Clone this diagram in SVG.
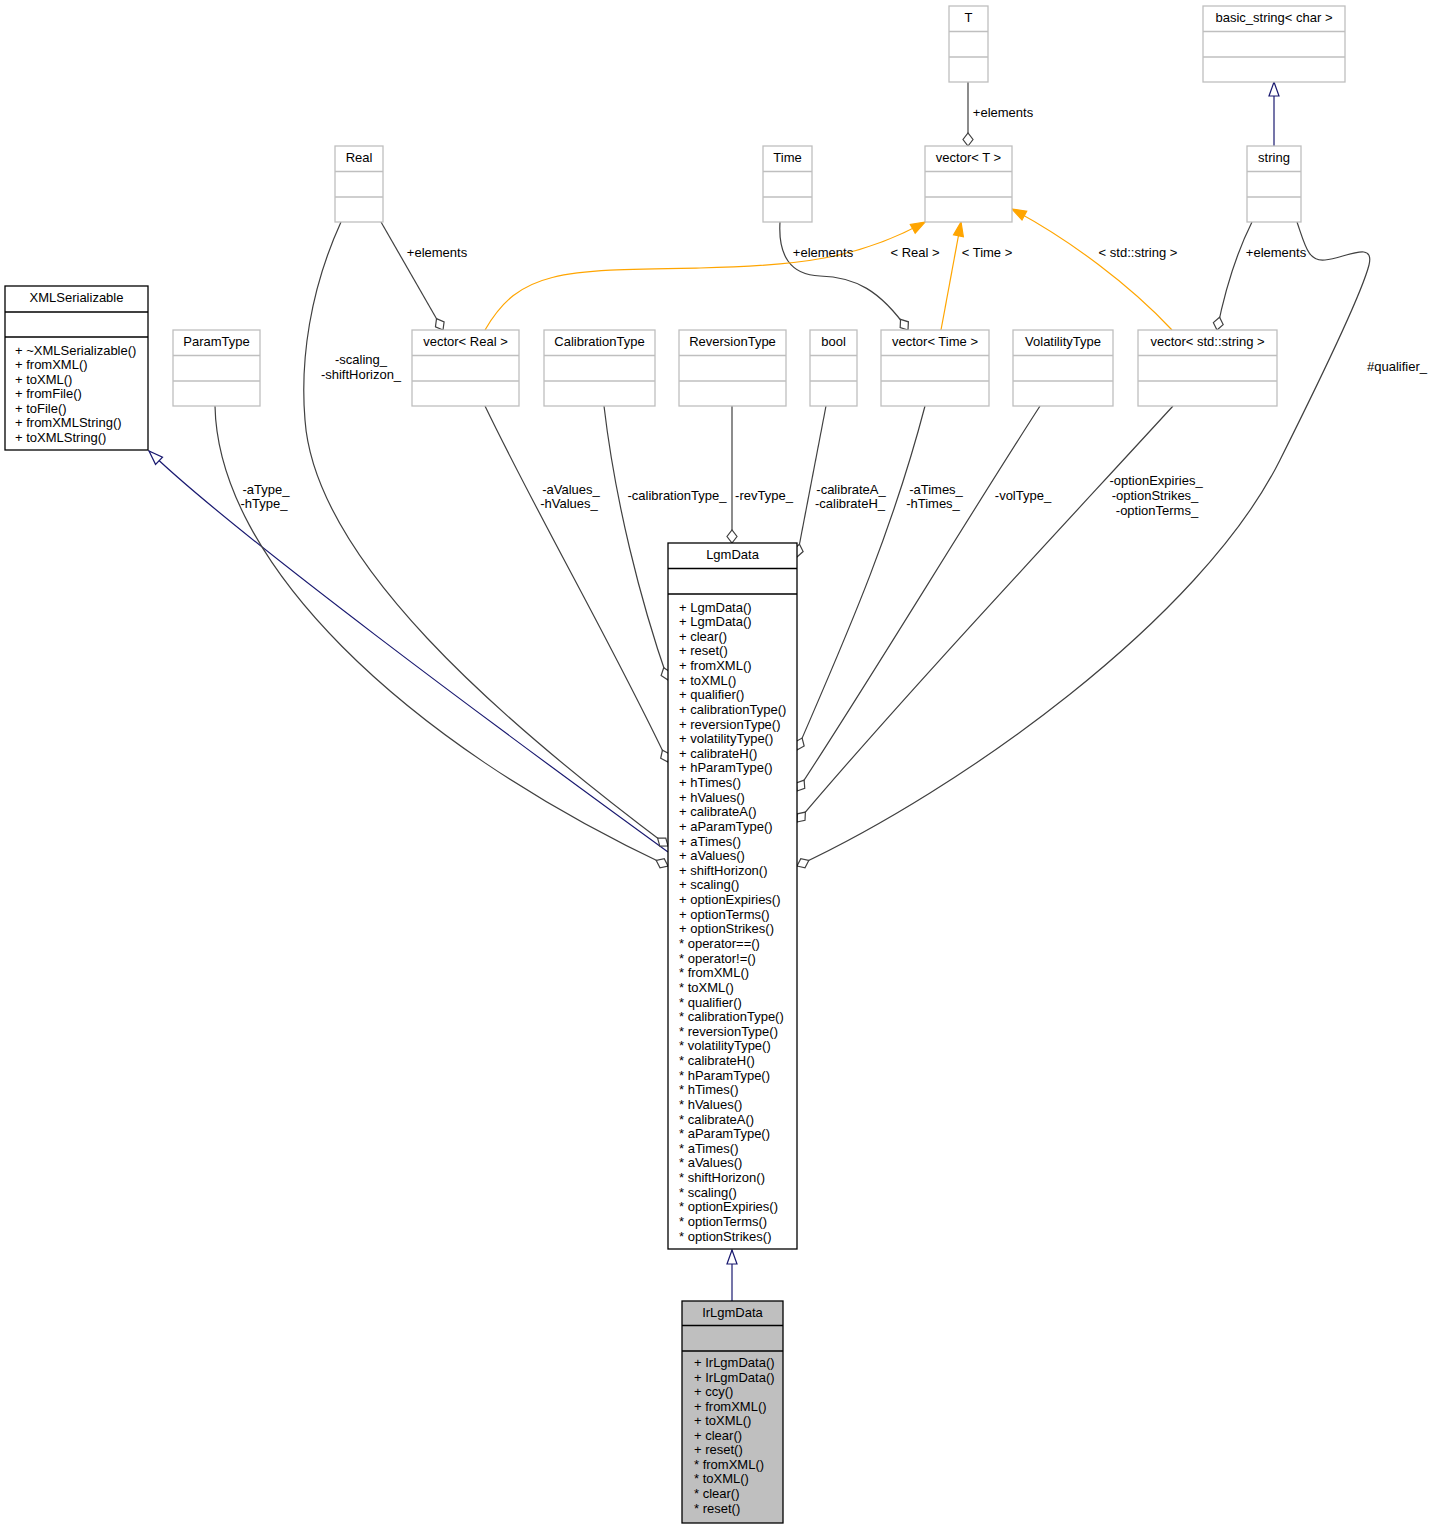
<svg xmlns="http://www.w3.org/2000/svg" width="1433" height="1529" viewBox="0 0 1433 1529">
<style>
text{font-family:"Liberation Sans",Arial,Helvetica,sans-serif;font-size:13px;fill:#000}
.c{text-anchor:middle}
.g rect,.g line{fill:#fff;stroke:#bfbfbf;stroke-width:1.3}
.k rect,.k line{fill:#fff;stroke:#000;stroke-width:1.3}
.k .sel{fill:#bfbfbf}
.e{fill:none;stroke:#404040;stroke-width:1.2}
.inh{fill:none;stroke:#191970;stroke-width:1.2}
.tpl{fill:none;stroke:#ffa500;stroke-width:1.2}
</style>
<defs>
<marker id="dia" viewBox="-14 -6 15 12" refX="0" refY="0" markerWidth="15" markerHeight="12" markerUnits="userSpaceOnUse" orient="auto"><path d="M0,0 L-6.5,-5 L-13,0 L-6.5,5 Z" fill="#fff" stroke="#404040" stroke-width="1.2"/></marker>
<marker id="tri" viewBox="-15 -7 16 14" refX="0" refY="0" markerWidth="16" markerHeight="14" markerUnits="userSpaceOnUse" orient="auto"><path d="M0,0 L-14,-5 L-14,5 Z" fill="#fff" stroke="#191970" stroke-width="1.2"/></marker>
<marker id="otri" viewBox="-15 -7 16 14" refX="0" refY="0" markerWidth="16" markerHeight="14" markerUnits="userSpaceOnUse" orient="auto"><path d="M0,0 L-14,-5 L-14,5 Z" fill="#ffa500" stroke="#ffa500" stroke-width="1.2"/></marker>
</defs>

<g id="connectors">
<path class="inh" d="M668,852 C500,730 230,530 149,451" marker-end="url(#tri)"/>
<path class="e" d="M215,406 C218,560 400,740 668,866" marker-end="url(#dia)"/>
<path class="e" d="M341,222 C310,290 300,360 305,420 C315,560 500,720 668,846" marker-end="url(#dia)"/>
<path class="e" d="M381,222 L443,330" marker-end="url(#dia)"/>
<path class="e" d="M485,406 C540,520 610,640 668,762" marker-end="url(#dia)"/>
<path class="e" d="M604,406 C615,500 640,600 668,680" marker-end="url(#dia)"/>
<path class="e" d="M732,406 L732,543" marker-end="url(#dia)"/>
<path class="e" d="M826,406 L797,557" marker-end="url(#dia)"/>
<path class="e" d="M925,406 C890,540 840,650 797,750" marker-end="url(#dia)"/>
<path class="e" d="M1040,406 C960,530 870,680 797,791" marker-end="url(#dia)"/>
<path class="e" d="M1173,406 C1050,540 900,700 797,822" marker-end="url(#dia)"/>
<path class="e" d="M1297,222 C1305,245 1308,262 1325,260 C1345,258 1375,240 1369,265 C1360,300 1300,420 1280,460 C1200,620 960,790 797,866" marker-end="url(#dia)"/>
<path class="e" d="M1252,222 C1238,250 1225,290 1217,330" marker-end="url(#dia)"/>
<path class="e" d="M968,82 L968,146" marker-end="url(#dia)"/>
<path class="inh" d="M1274,146 L1274,82" marker-end="url(#tri)"/>
<path class="e" d="M780,222 C778,255 790,275 820,276 C855,277 880,290 908,330" marker-end="url(#dia)"/>
<path class="tpl" d="M485,330 C520,270 560,270 700,268 C800,266 860,258 925,222" marker-end="url(#otri)"/>
<path class="tpl" d="M941,330 L961,222" marker-end="url(#otri)"/>
<path class="tpl" d="M1172,330 C1130,285 1070,240 1012,209" marker-end="url(#otri)"/>
<path class="inh" d="M732,1301 L732,1250" marker-end="url(#tri)"/>
<text class="c" x="437" y="256.5">+elements</text>
<text class="c" x="361" y="364">-scaling_</text>
<text class="c" x="361" y="379">-shiftHorizon_</text>
<text class="c" x="266" y="493.5">-aType_</text>
<text class="c" x="264" y="507.5">-hType_</text>
<text class="c" x="571" y="493.5">-aValues_</text>
<text class="c" x="569" y="507.5">-hValues_</text>
<text class="c" x="677" y="500">-calibrationType_</text>
<text class="c" x="764" y="500">-revType_</text>
<text class="c" x="851" y="494">-calibrateA_</text>
<text class="c" x="850" y="507.5">-calibrateH_</text>
<text class="c" x="936" y="493.5">-aTimes_</text>
<text class="c" x="933" y="507.5">-hTimes_</text>
<text class="c" x="1023" y="500">-volType_</text>
<text class="c" x="1156" y="485">-optionExpiries_</text>
<text class="c" x="1155" y="499.5">-optionStrikes_</text>
<text class="c" x="1157" y="514.5">-optionTerms_</text>
<text class="c" x="1397" y="371">#qualifier_</text>
<text class="c" x="1276" y="257">+elements</text>
<text class="c" x="1003" y="116.5">+elements</text>
<text class="c" x="823" y="256.5">+elements</text>
<text class="c" x="915" y="256.5">&lt; Real &gt;</text>
<text class="c" x="987" y="256.5">&lt; Time &gt;</text>
<text class="c" x="1138" y="256.5">&lt; std::string &gt;</text>
</g>

<g id="XMLSerializable" class="k">
<rect x="5" y="286" width="143" height="164"/>
<line x1="5" y1="312" x2="148" y2="312"/>
<line x1="5" y1="337" x2="148" y2="337"/>
<text class="c" x="76.5" y="302">XMLSerializable</text>
<text x="15" y="354.5"><tspan x="15" dy="0">+ ~XMLSerializable()</tspan><tspan x="15" dy="14.5">+ fromXML()</tspan><tspan x="15" dy="14.5">+ toXML()</tspan><tspan x="15" dy="14.5">+ fromFile()</tspan><tspan x="15" dy="14.5">+ toFile()</tspan><tspan x="15" dy="14.5">+ fromXMLString()</tspan><tspan x="15" dy="14.5">+ toXMLString()</tspan></text>
</g>

<g id="ParamType" class="g">
<rect x="173" y="330" width="87" height="76"/>
<line x1="173" y1="355.5" x2="260" y2="355.5"/>
<line x1="173" y1="381" x2="260" y2="381"/>
<text class="c" x="216.5" y="346">ParamType</text>
</g>

<g id="Real" class="g">
<rect x="335" y="146" width="48" height="76"/>
<line x1="335" y1="171.5" x2="383" y2="171.5"/>
<line x1="335" y1="197" x2="383" y2="197"/>
<text class="c" x="359" y="162">Real</text>
</g>

<g id="vectorReal" class="g">
<rect x="412" y="330" width="107" height="76"/>
<line x1="412" y1="355.5" x2="519" y2="355.5"/>
<line x1="412" y1="381" x2="519" y2="381"/>
<text class="c" x="465.5" y="346">vector&lt; Real &gt;</text>
</g>

<g id="CalibrationType" class="g">
<rect x="544" y="330" width="111" height="76"/>
<line x1="544" y1="355.5" x2="655" y2="355.5"/>
<line x1="544" y1="381" x2="655" y2="381"/>
<text class="c" x="599.5" y="346">CalibrationType</text>
</g>

<g id="ReversionType" class="g">
<rect x="679" y="330" width="107" height="76"/>
<line x1="679" y1="355.5" x2="786" y2="355.5"/>
<line x1="679" y1="381" x2="786" y2="381"/>
<text class="c" x="732.5" y="346">ReversionType</text>
</g>

<g id="bool" class="g">
<rect x="810" y="330" width="47" height="76"/>
<line x1="810" y1="355.5" x2="857" y2="355.5"/>
<line x1="810" y1="381" x2="857" y2="381"/>
<text class="c" x="833.5" y="346">bool</text>
</g>

<g id="vectorTime" class="g">
<rect x="881" y="330" width="108" height="76"/>
<line x1="881" y1="355.5" x2="989" y2="355.5"/>
<line x1="881" y1="381" x2="989" y2="381"/>
<text class="c" x="935" y="346">vector&lt; Time &gt;</text>
</g>

<g id="VolatilityType" class="g">
<rect x="1013" y="330" width="100" height="76"/>
<line x1="1013" y1="355.5" x2="1113" y2="355.5"/>
<line x1="1013" y1="381" x2="1113" y2="381"/>
<text class="c" x="1063" y="346">VolatilityType</text>
</g>

<g id="vectorString" class="g">
<rect x="1138" y="330" width="139" height="76"/>
<line x1="1138" y1="355.5" x2="1277" y2="355.5"/>
<line x1="1138" y1="381" x2="1277" y2="381"/>
<text class="c" x="1207.5" y="346">vector&lt; std::string &gt;</text>
</g>

<g id="Time" class="g">
<rect x="763" y="146" width="49" height="76"/>
<line x1="763" y1="171.5" x2="812" y2="171.5"/>
<line x1="763" y1="197" x2="812" y2="197"/>
<text class="c" x="787.5" y="162">Time</text>
</g>

<g id="T" class="g">
<rect x="949" y="6" width="39" height="76"/>
<line x1="949" y1="31.5" x2="988" y2="31.5"/>
<line x1="949" y1="57" x2="988" y2="57"/>
<text class="c" x="968.5" y="22">T</text>
</g>

<g id="vectorT" class="g">
<rect x="925" y="146" width="87" height="76"/>
<line x1="925" y1="171.5" x2="1012" y2="171.5"/>
<line x1="925" y1="197" x2="1012" y2="197"/>
<text class="c" x="968.5" y="162">vector&lt; T &gt;</text>
</g>

<g id="basic_string" class="g">
<rect x="1203" y="6" width="142" height="76"/>
<line x1="1203" y1="31.5" x2="1345" y2="31.5"/>
<line x1="1203" y1="57" x2="1345" y2="57"/>
<text class="c" x="1274" y="22">basic_string&lt; char &gt;</text>
</g>

<g id="string" class="g">
<rect x="1247" y="146" width="54" height="76"/>
<line x1="1247" y1="171.5" x2="1301" y2="171.5"/>
<line x1="1247" y1="197" x2="1301" y2="197"/>
<text class="c" x="1274" y="162">string</text>
</g>

<g id="LgmData" class="k">
<rect x="668" y="543" width="129" height="706"/>
<line x1="668" y1="568.5" x2="797" y2="568.5"/>
<line x1="668" y1="594" x2="797" y2="594"/>
<text class="c" x="732.5" y="559">LgmData</text>
<text x="679" y="611.5"><tspan x="679" dy="0">+ LgmData()</tspan><tspan x="679" dy="14.63">+ LgmData()</tspan><tspan x="679" dy="14.63">+ clear()</tspan><tspan x="679" dy="14.63">+ reset()</tspan><tspan x="679" dy="14.63">+ fromXML()</tspan><tspan x="679" dy="14.63">+ toXML()</tspan><tspan x="679" dy="14.63">+ qualifier()</tspan><tspan x="679" dy="14.63">+ calibrationType()</tspan><tspan x="679" dy="14.63">+ reversionType()</tspan><tspan x="679" dy="14.63">+ volatilityType()</tspan><tspan x="679" dy="14.63">+ calibrateH()</tspan><tspan x="679" dy="14.63">+ hParamType()</tspan><tspan x="679" dy="14.63">+ hTimes()</tspan><tspan x="679" dy="14.63">+ hValues()</tspan><tspan x="679" dy="14.63">+ calibrateA()</tspan><tspan x="679" dy="14.63">+ aParamType()</tspan><tspan x="679" dy="14.63">+ aTimes()</tspan><tspan x="679" dy="14.63">+ aValues()</tspan><tspan x="679" dy="14.63">+ shiftHorizon()</tspan><tspan x="679" dy="14.63">+ scaling()</tspan><tspan x="679" dy="14.63">+ optionExpiries()</tspan><tspan x="679" dy="14.63">+ optionTerms()</tspan><tspan x="679" dy="14.63">+ optionStrikes()</tspan><tspan x="679" dy="14.63">* operator==()</tspan><tspan x="679" dy="14.63">* operator!=()</tspan><tspan x="679" dy="14.63">* fromXML()</tspan><tspan x="679" dy="14.63">* toXML()</tspan><tspan x="679" dy="14.63">* qualifier()</tspan><tspan x="679" dy="14.63">* calibrationType()</tspan><tspan x="679" dy="14.63">* reversionType()</tspan><tspan x="679" dy="14.63">* volatilityType()</tspan><tspan x="679" dy="14.63">* calibrateH()</tspan><tspan x="679" dy="14.63">* hParamType()</tspan><tspan x="679" dy="14.63">* hTimes()</tspan><tspan x="679" dy="14.63">* hValues()</tspan><tspan x="679" dy="14.63">* calibrateA()</tspan><tspan x="679" dy="14.63">* aParamType()</tspan><tspan x="679" dy="14.63">* aTimes()</tspan><tspan x="679" dy="14.63">* aValues()</tspan><tspan x="679" dy="14.63">* shiftHorizon()</tspan><tspan x="679" dy="14.63">* scaling()</tspan><tspan x="679" dy="14.63">* optionExpiries()</tspan><tspan x="679" dy="14.63">* optionTerms()</tspan><tspan x="679" dy="14.63">* optionStrikes()</tspan></text>
</g>

<g id="IrLgmData" class="k">
<rect class="sel" x="682" y="1301" width="101" height="222"/>
<line x1="682" y1="1325.5" x2="783" y2="1325.5"/>
<line x1="682" y1="1351" x2="783" y2="1351"/>
<text class="c" x="732.5" y="1317">IrLgmData</text>
<text x="694" y="1367"><tspan x="694" dy="0">+ IrLgmData()</tspan><tspan x="694" dy="14.55">+ IrLgmData()</tspan><tspan x="694" dy="14.55">+ ccy()</tspan><tspan x="694" dy="14.55">+ fromXML()</tspan><tspan x="694" dy="14.55">+ toXML()</tspan><tspan x="694" dy="14.55">+ clear()</tspan><tspan x="694" dy="14.55">+ reset()</tspan><tspan x="694" dy="14.55">* fromXML()</tspan><tspan x="694" dy="14.55">* toXML()</tspan><tspan x="694" dy="14.55">* clear()</tspan><tspan x="694" dy="14.55">* reset()</tspan></text>
</g>
</svg>
